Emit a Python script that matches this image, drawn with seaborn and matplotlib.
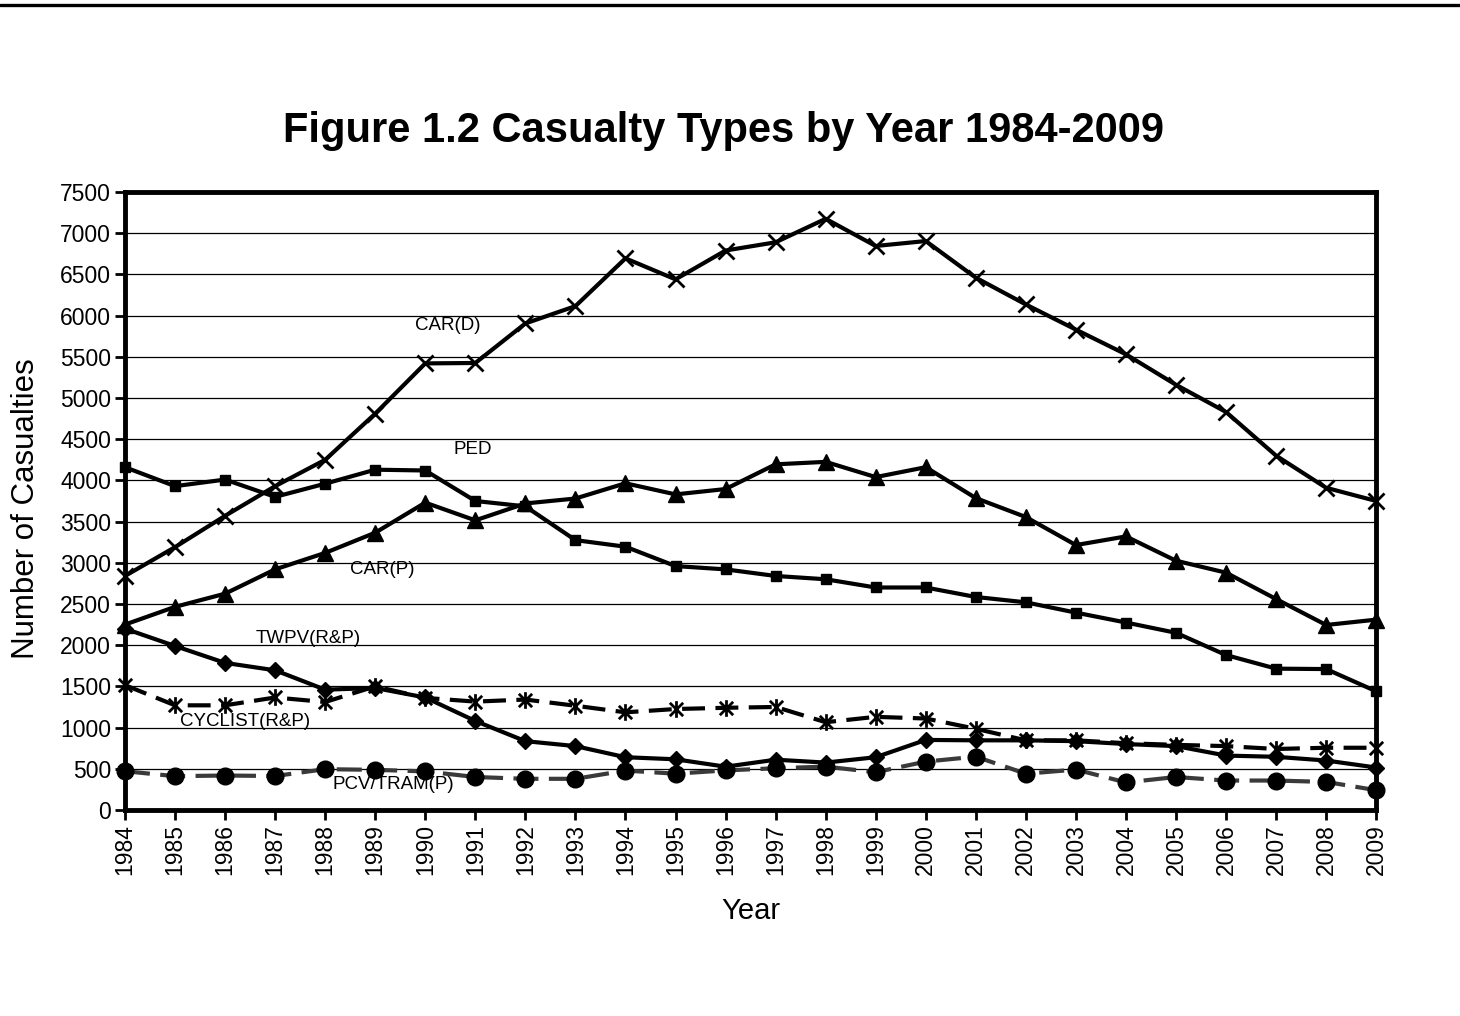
import matplotlib
matplotlib.use("Agg")
import matplotlib.pyplot as plt
from matplotlib.path import Path
from matplotlib.lines import Line2D
import seaborn as sns

years = list(range(1984, 2010))
car_d = [2840, 3190, 3570, 3930, 4250, 4810, 5420, 5425, 5905, 6115, 6695, 6440, 6790,
         6890, 7175, 6845, 6905, 6460, 6135, 5830, 5530, 5160, 4830, 4300, 3910, 3750]
ped = [4160, 3930, 4010, 3800, 3960, 4130, 4120, 3750, 3685, 3275, 3195, 2960, 2920,
       2840, 2800, 2700, 2700, 2585, 2520, 2395, 2275, 2150, 1880, 1715, 1710, 1440]
car_p = [2250, 2465, 2625, 2920, 3120, 3365, 3730, 3515, 3720, 3780, 3965, 3830, 3895,
         4195, 4225, 4040, 4160, 3785, 3555, 3215, 3320, 3025, 2880, 2560, 2245, 2310]
twpv = [2200, 1990, 1785, 1695, 1460, 1480, 1365, 1080, 835, 775, 640, 615, 525,
        610, 575, 640, 850, 845, 845, 835, 800, 775, 660, 645, 600, 515]
cyclist = [1515, 1270, 1270, 1365, 1310, 1500, 1360, 1315, 1340, 1265, 1185, 1225, 1240,
           1250, 1065, 1130, 1110, 985, 845, 845, 810, 790, 775, 740, 755, 755]
pcv = [470, 410, 418, 412, 495, 487, 468, 400, 378, 378, 478, 440, 480,
       506, 526, 458, 587, 647, 440, 490, 334, 400, 357, 357, 340, 240]

series_labels = ["CAR(D)", "PED", "CAR(P)", "TWPV(R&P)", "CYCLIST(R&P)", "PCV/TRAM(P)"]
label_pos = [(1990.45, 5874), (1990.95, 4381), (1989.14, 2913),
             (1987.66, 2087), (1986.4, 1068), (1989.36, 303)]

title = "Figure 1.2 Casualty Types by Year 1984-2009"

sns.set_theme(style="white")
plt.rcParams["font.family"] = ["Liberation Sans", "DejaVu Sans"]
plt.rcParams["text.color"] = "black"
plt.rcParams["axes.labelcolor"] = "black"
plt.rcParams["xtick.color"] = "black"
plt.rcParams["ytick.color"] = "black"

fig = plt.figure(figsize=(14.6, 10.16), dpi=100)
ax = fig.add_axes([0.0856, 0.2028, 0.857, 0.6082])

# asterisk marker: X plus vertical bar
ast = Path([(-1, -1), (1, 1), (-1, 1), (1, -1), (0, -1.25), (0, 1.25)],
           [Path.MOVETO, Path.LINETO, Path.MOVETO, Path.LINETO, Path.MOVETO, Path.LINETO])

common = dict(ax=ax, lw=3, clip_on=False, zorder=3)
sns.lineplot(x=years, y=car_d, color="black", marker="x", markersize=12,
             mew=2, mec="black", **common)
sns.lineplot(x=years, y=ped, color="black", marker="s", markersize=7,
             mew=1, mec="black", **common)
sns.lineplot(x=years, y=car_p, color="black", marker="^", markersize=12,
             mew=1, mec="black", **common)
sns.lineplot(x=years, y=twpv, color="black", marker="D", markersize=8,
             mew=1, mec="black", **common)
sns.lineplot(x=years, y=cyclist, color="black", marker=ast, markersize=12,
             mew=2, mec="black", linestyle=(0, (5.5, 2.5)), **common)
sns.lineplot(x=years, y=pcv, color="#3a3a3a", marker="o", markersize=12,
             mew=1, mec="black", mfc="black", linestyle=(0, (6, 2.5)), **common)

for lab, (lx, ly) in zip(series_labels, label_pos):
    ax.text(lx, ly, lab, fontsize=13.5, ha="center", va="center", color="black", zorder=4)

ax.set_xlim(1984, 2009)
ax.set_ylim(0, 7500)
ax.set_xticks(years)
ax.set_xticklabels([str(y) for y in years], rotation=90, fontsize=16.5)
ax.set_yticks(range(0, 7501, 500))
ax.set_yticklabels([str(v) for v in range(0, 7501, 500)], fontsize=16.5)
ax.tick_params(axis="both", direction="out", length=7, width=2, color="black",
               pad=3, bottom=True, left=True)
ax.grid(axis="y", color="black", lw=0.9)
ax.grid(axis="x", visible=False)
ax.set_axisbelow(True)
for sp in ax.spines.values():
    sp.set_visible(True)
    sp.set_color("black")
    sp.set_linewidth(3.5)

ax.set_xlabel("Year", fontsize=21, labelpad=16)
ax.set_ylabel("Number of Casualties", fontsize=22.5, labelpad=14)
ax.yaxis.label.set_y(0.487)

fig.text(0.4955, 0.871, title, fontsize=30, fontweight="bold", ha="center", va="center")
fig.add_artist(Line2D([0, 1], [0.9951, 0.9951], color="black", lw=2.4,
                      transform=fig.transFigure))

fig.savefig("out.png", dpi=100, facecolor="white")
